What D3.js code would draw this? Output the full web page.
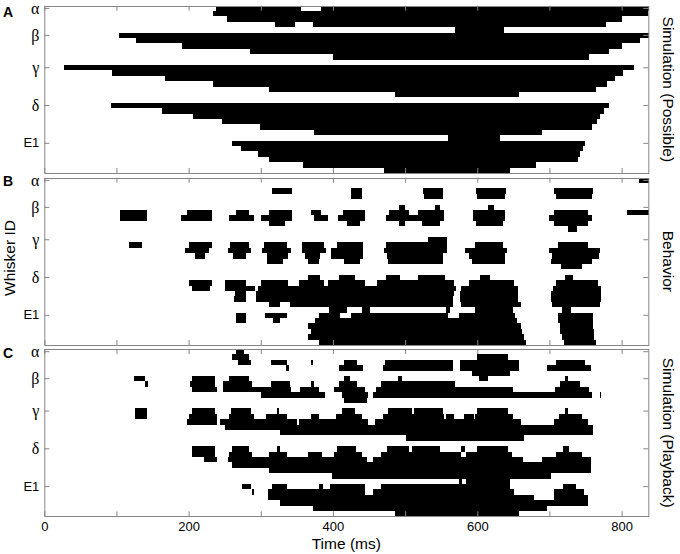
<!DOCTYPE html>
<html>
<head>
<meta charset="utf-8">
<script src="https://cdn.jsdelivr.net/npm/d3@7"></script>
<style>
  body { margin: 0; background: #fff; }
  text { font-family: Arial, "Liberation Sans", sans-serif; }
</style>
</head>
<body>
<div class="chart"></div>
<script>
// time axis (ms)
const timeTicks = [0, 100, 200, 300, 400, 500, 600, 700, 800];
const timeLabels = [0, 200, 400, 600, 800];

// 31 whisker rows per panel, labelled rows only
const rowCount = 31;
const whiskerLabels = ["α", "β", "γ", "δ", "E1"];
const whiskerLabelRows = [0, 5, 11, 18, 25];

const panelLetters = ["A", "B", "C"];
const panelTitles = ["Simulation (Possible)", "Behavior", "Simulation (Playback)"];

// contact intervals [start, end] in ms, one list per whisker row
const possibleRows = [
  [[238, 356], [383, 838]],
  [[234, 837]],
  [[253, 800]],
  [[320, 347], [373, 778]],
  [[569, 637]],
  [[103, 838]],
  [[127, 826]],
  [[191, 800]],
  [[285, 783]],
  [[400, 755]],
  [],
  [[27, 817]],
  [[94, 802]],
  [[167, 791]],
  [[234, 780]],
  [[312, 764]],
  [[486, 658]],
  [],
  [[92, 783]],
  [[163, 775]],
  [[206, 770]],
  [[246, 766]],
  [[299, 759]],
  [[374, 690]],
  [[560, 632]],
  [[260, 749]],
  [[273, 746]],
  [[296, 742]],
  [[312, 740]],
  [[359, 682]],
  [[471, 645]]
];

const behaviorRows = [
  [[824, 838]],
  [],
  [[316, 343], [425, 440], [525, 553], [598, 640], [706, 760]],
  [[425, 440], [526, 552], [600, 639], [709, 759]],
  [],
  [[492, 500], [541, 549], [615, 623]],
  [[105, 142], [198, 232], [265, 283], [312, 343], [369, 384], [414, 444], [478, 506], [518, 554], [594, 638], [706, 754], [808, 838]],
  [[105, 142], [190, 232], [256, 291], [300, 343], [374, 393], [407, 444], [473, 554], [594, 638], [700, 759]],
  [[312, 333], [420, 438], [492, 500], [523, 549], [598, 636], [706, 754]],
  [[726, 738]],
  [],
  [[532, 558]],
  [[118, 136], [200, 232], [257, 284], [305, 337], [357, 388], [406, 441], [473, 558], [597, 636], [712, 754]],
  [[195, 228], [255, 286], [301, 342], [357, 390], [397, 441], [471, 558], [583, 641], [700, 770]],
  [[209, 223], [262, 279], [308, 338], [361, 382], [397, 441], [475, 553], [588, 638], [703, 768]],
  [[308, 331], [365, 380], [415, 438], [476, 553], [592, 638], [702, 759]],
  [[716, 745]],
  [],
  [[365, 382], [409, 431], [474, 493], [518, 555], [604, 617], [721, 733]],
  [[201, 233], [251, 280], [300, 338], [353, 388], [393, 444], [461, 568], [588, 651], [709, 767]],
  [[205, 229], [250, 292], [296, 570], [578, 656], [705, 772]],
  [[264, 280], [294, 568], [576, 657], [702, 772]],
  [[263, 280], [294, 567], [576, 657], [702, 772]],
  [[312, 327], [340, 566], [578, 660], [703, 770]],
  [[395, 420], [440, 452], [556, 562], [597, 650], [718, 730]],
  [[265, 280], [306, 337], [380, 410], [425, 560], [575, 652], [712, 760]],
  [[265, 280], [317, 327], [375, 655], [712, 760]],
  [[365, 660], [715, 760]],
  [[370, 662], [715, 762]],
  [[365, 665], [718, 762]],
  [[380, 668], [720, 765]]
];

const playbackRows = [
  [[265, 277]],
  [[260, 283], [600, 643]],
  [[268, 287], [314, 337], [370, 373], [415, 433], [472, 566], [576, 658], [709, 749]],
  [[335, 339], [408, 441], [470, 566], [576, 658], [697, 757]],
  [[593, 645]],
  [[124, 140], [204, 237], [256, 283], [415, 424], [490, 495], [603, 615], [721, 726]],
  [[140, 144], [202, 237], [248, 288], [314, 340], [370, 374], [408, 433], [466, 569], [715, 742]],
  [[205, 239], [248, 342], [355, 381], [401, 444], [459, 649], [708, 755]],
  [[300, 389], [413, 448], [456, 759], [770, 772]],
  [[415, 447]],
  [],
  [[125, 142], [204, 237], [259, 286], [322, 325], [412, 431], [476, 509], [513, 552], [599, 643], [721, 726]],
  [[125, 142], [200, 240], [256, 291], [307, 337], [369, 381], [404, 440], [470, 554], [557, 568], [581, 595], [597, 649], [713, 745]],
  [[198, 240], [243, 350], [353, 449], [458, 660], [707, 753]],
  [[250, 761]],
  [[327, 761]],
  [[501, 665]],
  [],
  [[205, 237], [260, 283], [323, 326], [406, 432], [475, 506], [510, 549], [578, 583], [599, 643], [719, 727]],
  [[205, 237], [256, 288], [312, 337], [366, 385], [401, 440], [466, 577], [584, 648], [709, 745]],
  [[221, 239], [255, 447], [455, 663], [690, 757]],
  [[260, 757]],
  [[312, 758]],
  [[398, 702]],
  [[575, 579], [585, 646]],
  [[274, 287], [315, 337], [380, 386], [396, 444], [466, 646], [719, 737]],
  [[288, 291], [310, 444], [455, 651], [707, 748]],
  [[310, 678], [707, 753]],
  [[327, 753]],
  [[373, 697]],
  [[486, 658]]
];

const width = 680;
const height = 554;
const frameColor = "#858585";

const svg = d3.select(".chart")
    .append("svg")
    .attr("width", width)
    .attr("height", height);

const x = d3.scaleLinear().domain([0, 837]).range([44.3, 648.3]);

const panelHeight = 167.3;
const panels = [
    { letter: panelLetters[0], title: panelTitles[0], rows: possibleRows, top: 5.7, letterY: 16.5 },
    { letter: panelLetters[1], title: panelTitles[1], rows: behaviorRows, top: 177.7, letterY: 186 },
    { letter: panelLetters[2], title: panelTitles[2], rows: playbackRows, top: 349, letterY: 358 }
];

function styleAxis(g) {
    g.select(".domain").remove();
    g.selectAll(".tick line").attr("stroke", frameColor);
    g.selectAll(".tick text").attr("fill", "#000").style("font-size", "13px")
        .style("font-family", "Arial, 'Liberation Sans', sans-serif");
}

panels.forEach((p, pi) => {
    const y = d3.scaleBand()
        .domain(d3.range(rowCount))
        .range([p.top, p.top + panelHeight])
        .padding(0);

    const g = svg.append("g").attr("class", "panel");

    const segs = p.rows.flatMap((row, r) => row.map(([s, e]) => ({ r, s, e })));

    g.selectAll(".seg")
        .data(segs)
        .enter()
        .append("rect")
        .attr("class", "seg")
        .attr("x", d => x(d.s))
        .attr("y", d => y(d.r))
        .attr("width", d => x(d.e) - x(d.s))
        .attr("height", y.bandwidth())
        .attr("fill", "#000")
        .attr("shape-rendering", "crispEdges");

    // ticks pointing inward on all four sides
    g.append("g")
        .attr("transform", `translate(0,${p.top + panelHeight})`)
        .call(d3.axisBottom(x).tickValues(timeTicks).tickSize(-5).tickPadding(5)
            .tickFormat(d => (pi === 2 && timeLabels.includes(d)) ? d : ""))
        .call(styleAxis);

    g.append("g")
        .attr("transform", `translate(0,${p.top})`)
        .call(d3.axisTop(x).tickValues(timeTicks).tickSize(-5).tickFormat(() => ""))
        .call(styleAxis);

    g.append("g")
        .attr("transform", `translate(${x.range()[0]},0)`)
        .call(d3.axisLeft(y).tickValues(whiskerLabelRows).tickSize(-5).tickPadding(5)
            .tickFormat(d => whiskerLabels[whiskerLabelRows.indexOf(d)]))
        .call(styleAxis)
        .call(ax => ax.selectAll(".tick text")
            .filter(d => whiskerLabels[whiskerLabelRows.indexOf(d)] !== "E1")
            .style("font-family", "'Liberation Serif', 'DejaVu Serif', serif")
            .style("font-size", "16px"));

    g.append("g")
        .attr("transform", `translate(${x.range()[1]},0)`)
        .call(d3.axisRight(y).tickValues(whiskerLabelRows).tickSize(-5).tickFormat(() => ""))
        .call(styleAxis);

    g.append("rect")
        .attr("x", x.range()[0] + 0.5)
        .attr("y", Math.round(p.top) + 0.5)
        .attr("width", Math.round(x.range()[1] - x.range()[0]))
        .attr("height", Math.round(panelHeight))
        .attr("fill", "none")
        .attr("stroke", frameColor)
        .attr("stroke-width", 1);

    svg.append("text")
        .attr("x", 3)
        .attr("y", p.letterY)
        .style("font-size", "14px")
        .style("font-weight", "bold")
        .text(p.letter);

    svg.append("text")
        .attr("transform", `translate(663,${p.top + panelHeight / 2}) rotate(90)`)
        .attr("text-anchor", "middle")
        .style("font-size", "15.5px")
        .text(p.title);
});

svg.append("text")
    .attr("x", (x.range()[0] + x.range()[1]) / 2)
    .attr("y", 549)
    .attr("text-anchor", "middle")
    .style("font-size", "15.5px")
    .text("Time (ms)");

svg.append("text")
    .attr("transform", "translate(15,258) rotate(-90)")
    .attr("text-anchor", "middle")
    .style("font-size", "15.5px")
    .text("Whisker ID");
</script>
</body>
</html>
